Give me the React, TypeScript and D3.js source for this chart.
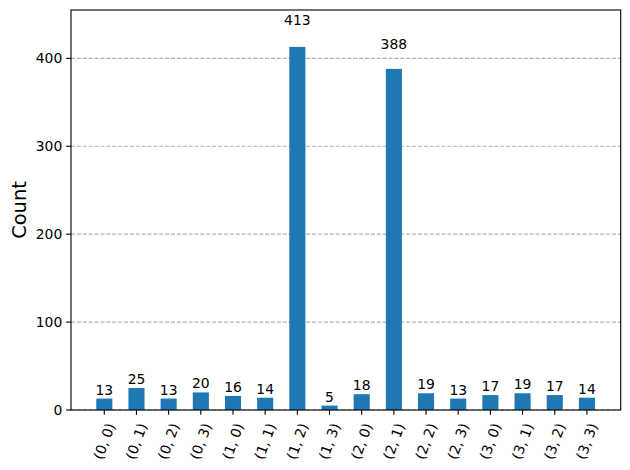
import React from "react";
import * as d3 from "d3";

const categories = ["(0, 0)", "(0, 1)", "(0, 2)", "(0, 3)", "(1, 0)", "(1, 1)", "(1, 2)", "(1, 3)", "(2, 0)", "(2, 1)", "(2, 2)", "(2, 3)", "(3, 0)", "(3, 1)", "(3, 2)", "(3, 3)"];
const counts = [13, 25, 13, 20, 16, 14, 413, 5, 18, 388, 19, 13, 17, 19, 17, 14];
const yTicks = [0, 100, 200, 300, 400];

const W = 630, H = 470;
const L = 71, R = 620.7, T = 10, B = 410;
const FONT = "DejaVu Sans, sans-serif";
const FS = 13.9;
const BLUE = "#1f77b4";

export default function App() {
  const x = d3.scaleLinear().domain([-1.035, categories.length - 1 + 1.05]).range([L, R]);
  const y = d3.scaleLinear().domain([0, 455]).range([B, T]);
  const bw = (x(1) - x(0)) * 0.5;
  const tickLen = 4.86;
  const pad = 4.86;
  const labelW = 40;
  const labelH = 16;
  const rad = (70 * Math.PI) / 180;
  const bboxH = labelW * Math.sin(rad) + labelH * Math.cos(rad);
  const labelCy = B + tickLen + pad + bboxH / 2;

  return (
    <svg width={W} height={H} style={{ position: "absolute", left: 0, top: 0, background: "#fff" }} fontFamily={FONT}>
      <rect x={0} y={0} width={W} height={H} fill="#fff" />
      {yTicks.map((t) => (
        <line key={"g" + t} x1={L} x2={R} y1={y(t)} y2={y(t)} stroke="#b0b0b0" strokeWidth={1.11} strokeDasharray="4.1,1.78" />
      ))}
      {counts.map((v, i) => (
        <rect key={"b" + i} x={x(i) - bw / 2} y={y(v)} width={bw} height={B - y(v)} fill={BLUE} />
      ))}
      {counts.map((v, i) => (
        <text key={"v" + i} x={x(i)} y={y(v * 1.05) - 3.3} textAnchor="middle" fontSize={FS} fill="#000">
          {v}
        </text>
      ))}
      <rect x={L} y={T} width={R - L} height={B - T} fill="none" stroke="#000" strokeWidth={1.11} />
      {yTicks.map((t) => (
        <g key={"yt" + t}>
          <line x1={L - tickLen} x2={L} y1={y(t)} y2={y(t)} stroke="#000" strokeWidth={1.11} />
          <text x={L - tickLen - pad + 1} y={y(t)} dy="0.35em" textAnchor="end" fontSize={FS} fill="#000">
            {t}
          </text>
        </g>
      ))}
      {categories.map((c, i) => (
        <g key={"xt" + i}>
          <line x1={x(i)} x2={x(i)} y1={B} y2={B + tickLen} stroke="#000" strokeWidth={1.11} />
          <text
            x={0}
            y={0}
            dy="0.35em"
            textAnchor="middle"
            fontSize={FS}
            fill="#000"
            transform={`translate(${x(i)},${labelCy}) rotate(-70)`}
          >
            {c}
          </text>
        </g>
      ))}
      <text transform={`translate(19,${(T + B) / 2}) rotate(-90)`} dy="0.35em" textAnchor="middle" fontSize={19.4} fill="#000">
        Count
      </text>
    </svg>
  );
}
